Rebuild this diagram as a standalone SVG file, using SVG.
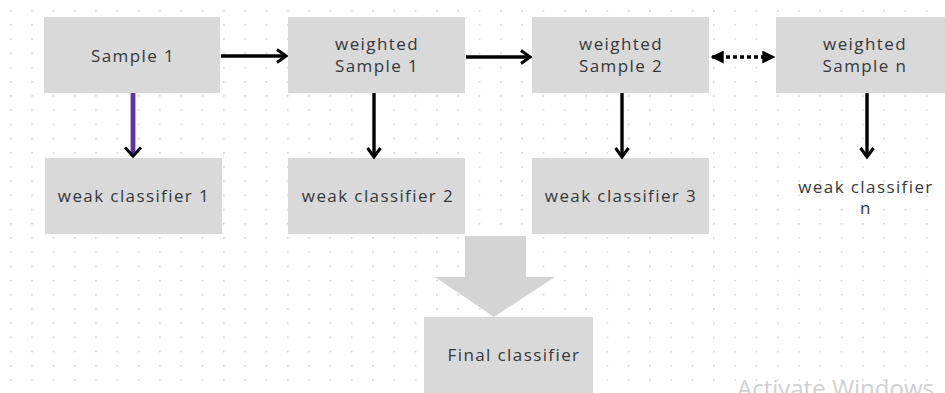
<svg xmlns="http://www.w3.org/2000/svg" width="945" height="393" viewBox="0 0 945 393">
<defs>
<pattern id="dots" x="10" y="10" width="21.3" height="14.2" patternUnits="userSpaceOnUse">
<circle cx="0.8" cy="0.8" r="0.9" fill="#cfcfcf"/>
</pattern>
<marker id="chev" viewBox="0 0 16 16" refX="14" refY="8" markerWidth="16" markerHeight="16" markerUnits="userSpaceOnUse" orient="auto">
<path d="M5 1.5 L14 8 L5 14.5" fill="none" stroke="#000" stroke-width="3"/>
</marker>
<marker id="tri" viewBox="0 0 10 10" refX="9" refY="5" markerWidth="13" markerHeight="13" markerUnits="userSpaceOnUse" orient="auto-start-reverse">
<path d="M0 0 L10 5 L0 10 Z" fill="#000"/>
</marker>
</defs>
<style>
.box{fill:#d9d9d9}
.t{font-family:"Open Sans","Liberation Sans",sans-serif;font-size:17px;letter-spacing:1.4px;fill:#35383b;text-anchor:middle}
.c{fill:none;stroke:#000;stroke-width:3.4}
</style>
<rect width="945" height="393" fill="#fff"/>
<rect width="945" height="393" fill="url(#dots)"/>

<g id="sample1"><rect class="box" x="44" y="17" width="176" height="76"/><text class="t" x="133" y="62">Sample 1</text></g>
<g id="wsample1"><rect class="box" x="288" y="17" width="177" height="76"/><text class="t" x="377" y="50">weighted</text><text class="t" x="377" y="72">Sample 1</text></g>
<g id="wsample2"><rect class="box" x="532" y="17" width="177" height="76"/><text class="t" x="621" y="50">weighted</text><text class="t" x="621" y="72">Sample 2</text></g>
<g id="wsamplen"><rect class="box" x="776" y="17" width="169" height="76"/><text class="t" x="865" y="50">weighted</text><text class="t" x="865" y="72">Sample n</text></g>
<g id="weak1"><rect class="box" x="45" y="158" width="177" height="76"/><text class="t" x="134" y="202">weak classifier 1</text></g>
<g id="weak2"><rect class="box" x="288" y="158" width="177" height="76"/><text class="t" x="378" y="202">weak classifier 2</text></g>
<g id="weak3"><rect class="box" x="532" y="158" width="177" height="76"/><text class="t" x="621" y="202">weak classifier 3</text></g>
<g id="weakn"><text class="t" x="866" y="193">weak classifier</text><text class="t" x="866" y="214">n</text></g>
<g id="final"><rect class="box" x="424" y="317" width="169" height="80"/><text class="t" x="514" y="361">Final classifier</text></g>

<g id="connectors">
<line class="c" x1="221" y1="56" x2="286" y2="56"  marker-end="url(#chev)"/>
<line class="c" x1="466" y1="57" x2="530" y2="57" marker-end="url(#chev)"/>
<line x1="712" y1="57" x2="774" y2="57" stroke="#000" stroke-width="3.4" stroke-dasharray="4 3" marker-start="url(#tri)" marker-end="url(#tri)"/>
<line x1="133" y1="93" x2="133" y2="156" stroke="#5a34a4" stroke-width="4.8"/>
<path d="M125 147.5 L133 156 L141 147.5" fill="none" stroke="#000" stroke-width="3"/>
<line class="c" x1="374" y1="93" x2="374" y2="157" marker-end="url(#chev)"/>
<line class="c" x1="622" y1="93" x2="622" y2="157" marker-end="url(#chev)"/>
<line class="c" x1="867" y1="93" x2="867" y2="157" marker-end="url(#chev)"/>
<path d="M465 236 H526 V277 H555 L494 317 L435 277 H465 Z" fill="#d4d4d4"/>
</g>
<text x="737" y="397" font-family="'Open Sans',sans-serif" font-size="24" fill="#d0d0d0">Activate Windows</text>
</svg>
